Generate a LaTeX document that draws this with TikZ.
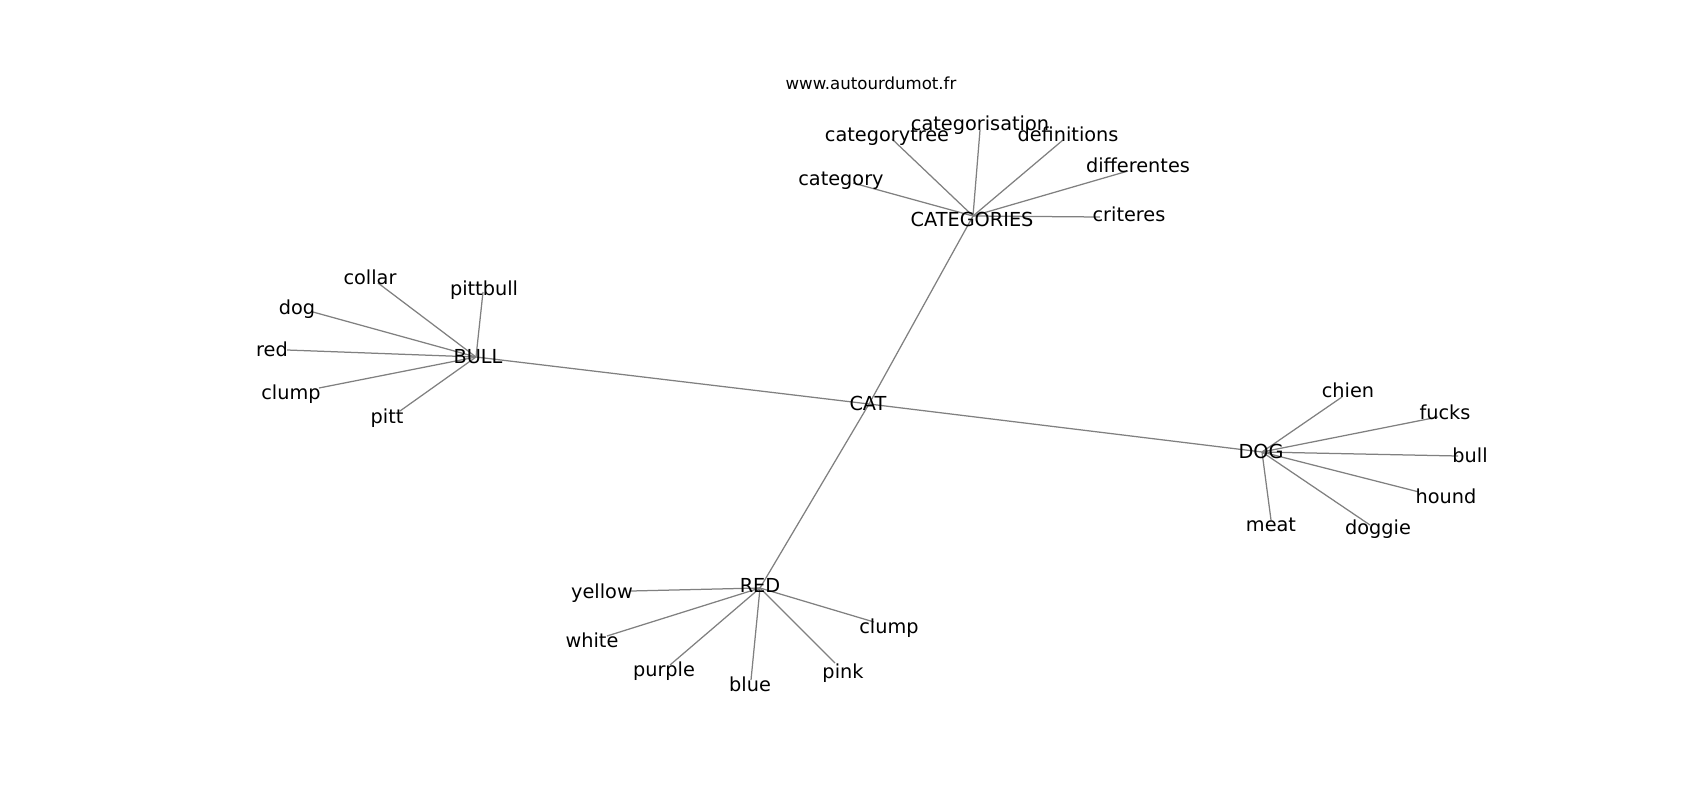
\documentclass[tikz,border=0pt]{standalone}
\usepackage{fontspec}
\setmainfont{DejaVu Sans}
\tikzset{
  lbl/.style={anchor=base, inner sep=0pt, font=\fontsize{19.3}{22}\selectfont, text=black},
  wm/.style={anchor=base, inner sep=0pt, font=\fontsize{16.6}{20}\selectfont, text=black},
  edge/.style={draw=black!50, line width=1.25pt}
}
\begin{document}
\begin{tikzpicture}[x=1pt,y=-1pt]
\useasboundingbox (0,0) rectangle (1700,800);
% node points
\coordinate (cat) at (869,404);
\coordinate (categories) at (973,216);
\coordinate (bull) at (476,357);
\coordinate (dog) at (1262,452);
\coordinate (red) at (760,588);
\coordinate (categorytree) at (892,139);
\coordinate (categorisation) at (980,130);
\coordinate (definitions) at (1063,140);
\coordinate (category) at (853,183);
\coordinate (differentes) at (1128,171);
\coordinate (criteres) at (1100,217);
\coordinate (pittbull) at (483,292);
\coordinate (collar) at (378,283);
\coordinate (dogb) at (313,312);
\coordinate (redb) at (287,350);
\coordinate (clumpb) at (319,388);
\coordinate (pitt) at (400,411);
\coordinate (chien) at (1342,397);
\coordinate (fucks) at (1438,417);
\coordinate (bulld) at (1458,456);
\coordinate (hound) at (1419,492);
\coordinate (doggie) at (1370,525);
\coordinate (meat) at (1271,520);
\coordinate (yellow) at (631,591);
\coordinate (white) at (607,636);
\coordinate (purple) at (670,665);
\coordinate (blue) at (751,680);
\coordinate (pink) at (835,663);
\coordinate (clumpr) at (874,622);
% edges
\foreach \a/\b in {cat/categories, cat/bull, cat/dog, cat/red,
  categories/categorytree, categories/categorisation, categories/definitions,
  categories/category, categories/differentes, categories/criteres,
  bull/pittbull, bull/collar, bull/dogb, bull/redb, bull/clumpb, bull/pitt,
  dog/chien, dog/fucks, dog/bulld, dog/hound, dog/doggie, dog/meat,
  red/yellow, red/white, red/purple, red/blue, red/pink, red/clumpr}
  \draw[edge] (\a) -- (\b);
% labels
\node[wm] (lwm) at (871,89) {www.autourdumot.fr};
\node[lbl] (lcat) at (868,410) {CAT};
\node[lbl] (lcategories) at (972,226) {CATEGORIES};
\node[lbl] (lbull) at (478,363) {BULL};
\node[lbl] (ldog) at (1261,458) {DOG};
\node[lbl] (lred) at (760,592) {RED};
\node[lbl] (lcategorytree) at (887,141) {categorytree};
\node[lbl] (lcategorisation) at (980,130) {categorisation};
\node[lbl] (ldefinitions) at (1068,141) {definitions};
\node[lbl] (lcategory) at (841,185) {category};
\node[lbl] (ldifferentes) at (1138,172) {differentes};
\node[lbl] (lcriteres) at (1129,221) {criteres};
\node[lbl] (lpittbull) at (484,295) {pittbull};
\node[lbl] (lcollar) at (370,284) {collar};
\node[lbl] (ldogb) at (297,314) {dog};
\node[lbl] (lredb) at (272,356) {red};
\node[lbl] (lclumpb) at (291,399) {clump};
\node[lbl] (lpitt) at (387,423) {pitt};
\node[lbl] (lchien) at (1348,397) {chien};
\node[lbl] (lfucks) at (1445,419) {fucks};
\node[lbl] (lbulld) at (1470,462) {bull};
\node[lbl] (lhound) at (1446,503) {hound};
\node[lbl] (ldoggie) at (1378,534) {doggie};
\node[lbl] (lmeat) at (1271,531) {meat};
\node[lbl] (lyellow) at (602,598) {yellow};
\node[lbl] (lwhite) at (592,647) {white};
\node[lbl] (lpurple) at (664,676) {purple};
\node[lbl] (lblue) at (750,691) {blue};
\node[lbl] (lpink) at (843,678) {pink};
\node[lbl] (lclumpr) at (889,633) {clump};
\end{tikzpicture}
\end{document}
